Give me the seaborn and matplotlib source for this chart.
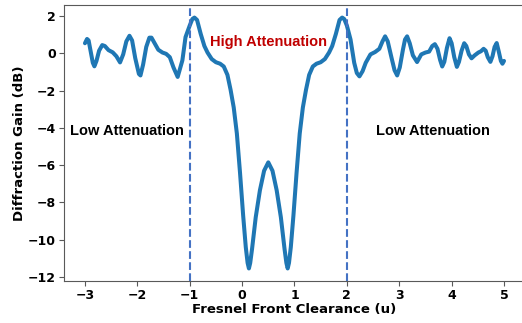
import numpy as np
import pandas as pd
import seaborn as sns
import matplotlib.pyplot as plt

# curve
u = [
    -3.00, -2.96, -2.93, -2.89, -2.85, -2.82, -2.78, -2.73, -2.67, -2.62,
    -2.55, -2.47, -2.40, -2.33, -2.27, -2.21, -2.15, -2.10, -2.04, -1.97,
    -1.94, -1.89, -1.83, -1.77, -1.73, -1.67, -1.60, -1.52, -1.45, -1.38,
    -1.31, -1.23, -1.14, -1.08, -1.00, -0.95, -0.91, -0.86, -0.79, -0.72,
    -0.66, -0.58, -0.50, -0.42, -0.35, -0.28, -0.22, -0.16, -0.10, -0.04,
    0.02, 0.07, 0.105, 0.13, 0.155, 0.19, 0.26, 0.34, 0.42, 0.50,
    0.58, 0.66, 0.74, 0.81, 0.845, 0.87, 0.895, 0.93, 0.98, 1.04,
    1.10, 1.16, 1.22, 1.28, 1.35, 1.42, 1.50, 1.58, 1.66, 1.72,
    1.79, 1.86, 1.91, 1.95, 2.00, 2.07, 2.14, 2.19, 2.24, 2.30,
    2.36, 2.45, 2.54, 2.62, 2.68, 2.73, 2.78, 2.85, 2.91, 2.96,
    3.01, 3.07, 3.11, 3.15, 3.20, 3.26, 3.34, 3.42, 3.50, 3.57,
    3.63, 3.68, 3.73, 3.78, 3.82, 3.86, 3.91, 3.96, 4.00, 4.05,
    4.10, 4.14, 4.19, 4.24, 4.28, 4.33, 4.38, 4.44, 4.51, 4.56,
    4.61, 4.65, 4.69, 4.74, 4.78, 4.82, 4.86, 4.90, 4.94, 4.97,
    5.00,
]
gain = [
    0.55, 0.78, 0.70, 0.10, -0.50, -0.69, -0.40, 0.15, 0.45, 0.40,
    0.18, 0.06, -0.15, -0.48, -0.05, 0.65, 0.95, 0.70, -0.25, -1.10,
    -1.18, -0.60, 0.35, 0.85, 0.85, 0.55, 0.20, 0.05, -0.02, -0.20,
    -0.75, -1.26, -0.37, 0.88, 1.50, 1.85, 1.93, 1.80, 1.05, 0.40,
    0.05, -0.30, -0.47, -0.55, -0.70, -1.15, -1.95, -2.90, -4.30, -6.40,
    -8.70, -10.40, -11.25, -11.55, -11.25, -10.50, -8.80, -7.35, -6.30, -5.85,
    -6.30, -7.35, -8.80, -10.50, -11.25, -11.55, -11.25, -10.40, -8.70, -6.40,
    -4.30, -2.90, -1.95, -1.15, -0.70, -0.55, -0.47, -0.30, 0.05, 0.40,
    1.05, 1.80, 1.93, 1.85, 1.50, 0.75, -0.50, -1.05, -1.23, -0.95,
    -0.50, -0.05, 0.08, 0.25, 0.65, 0.92, 0.65, -0.20, -0.90, -1.18,
    -0.75, 0.20, 0.75, 0.92, 0.55, -0.10, -0.46, -0.05, 0.05, 0.10,
    0.40, 0.50, 0.25, -0.35, -0.70, -0.45, 0.30, 0.82, 0.55, -0.20,
    -0.72, -0.45, 0.15, 0.55, 0.40, -0.05, -0.26, -0.10, 0.05, 0.12,
    0.25, 0.15, -0.20, -0.45, -0.15, 0.35, 0.56, 0.10, -0.40, -0.55,
    -0.40,
]
boundaries = [-1, 2]
labels = ["Low Attenuation", "High Attenuation", "Low Attenuation"]
label_x = [-2.2, 0.5, 3.65]
label_y = [-4.36, 0.38, -4.36]
label_colors = ["black", "#c00000", "black"]

df = pd.DataFrame({"u": u, "gain": gain})

sns.set_style("ticks")
plt.rcParams['font.family'] = ['DejaVu Sans']

fig = plt.figure(figsize=(5.22, 3.23), dpi=100)
ax = fig.add_axes([0.1226, 0.130, 0.8831, 0.8545])

sns.lineplot(data=df, x="u", y="gain", ax=ax, color="#1f77b4",
             linewidth=2.9, sort=False)

for b in boundaries:
    ax.axvline(b, color="#4472c4", linestyle="--", linewidth=1.5)

for txt, x, y, c in zip(labels, label_x, label_y, label_colors):
    ax.text(x, y, txt, ha="center", va="baseline", color=c,
            fontsize=10.5, fontweight="bold", family=["Liberation Sans"])

ax.set_xlabel("Fresnel Front Clearance (u)", fontsize=9.5, fontweight="bold",
              labelpad=0.5, color="black")
ax.set_ylabel("Diffraction Gain (dB)", fontsize=9.5, fontweight="bold",
              labelpad=1.5, color="black")
ax.set_xticks(range(-3, 6))
ax.set_yticks(range(-12, 3, 2))
ax.tick_params(labelsize=9, color="0.35", labelcolor="black",
               length=3.5, width=0.8, pad=2.5)
for lab in ax.get_xticklabels() + ax.get_yticklabels():
    lab.set_fontweight("bold")
for sp in ax.spines.values():
    sp.set_color("0.35")
    sp.set_linewidth(0.8)

fig.savefig("out.png", dpi=100)
